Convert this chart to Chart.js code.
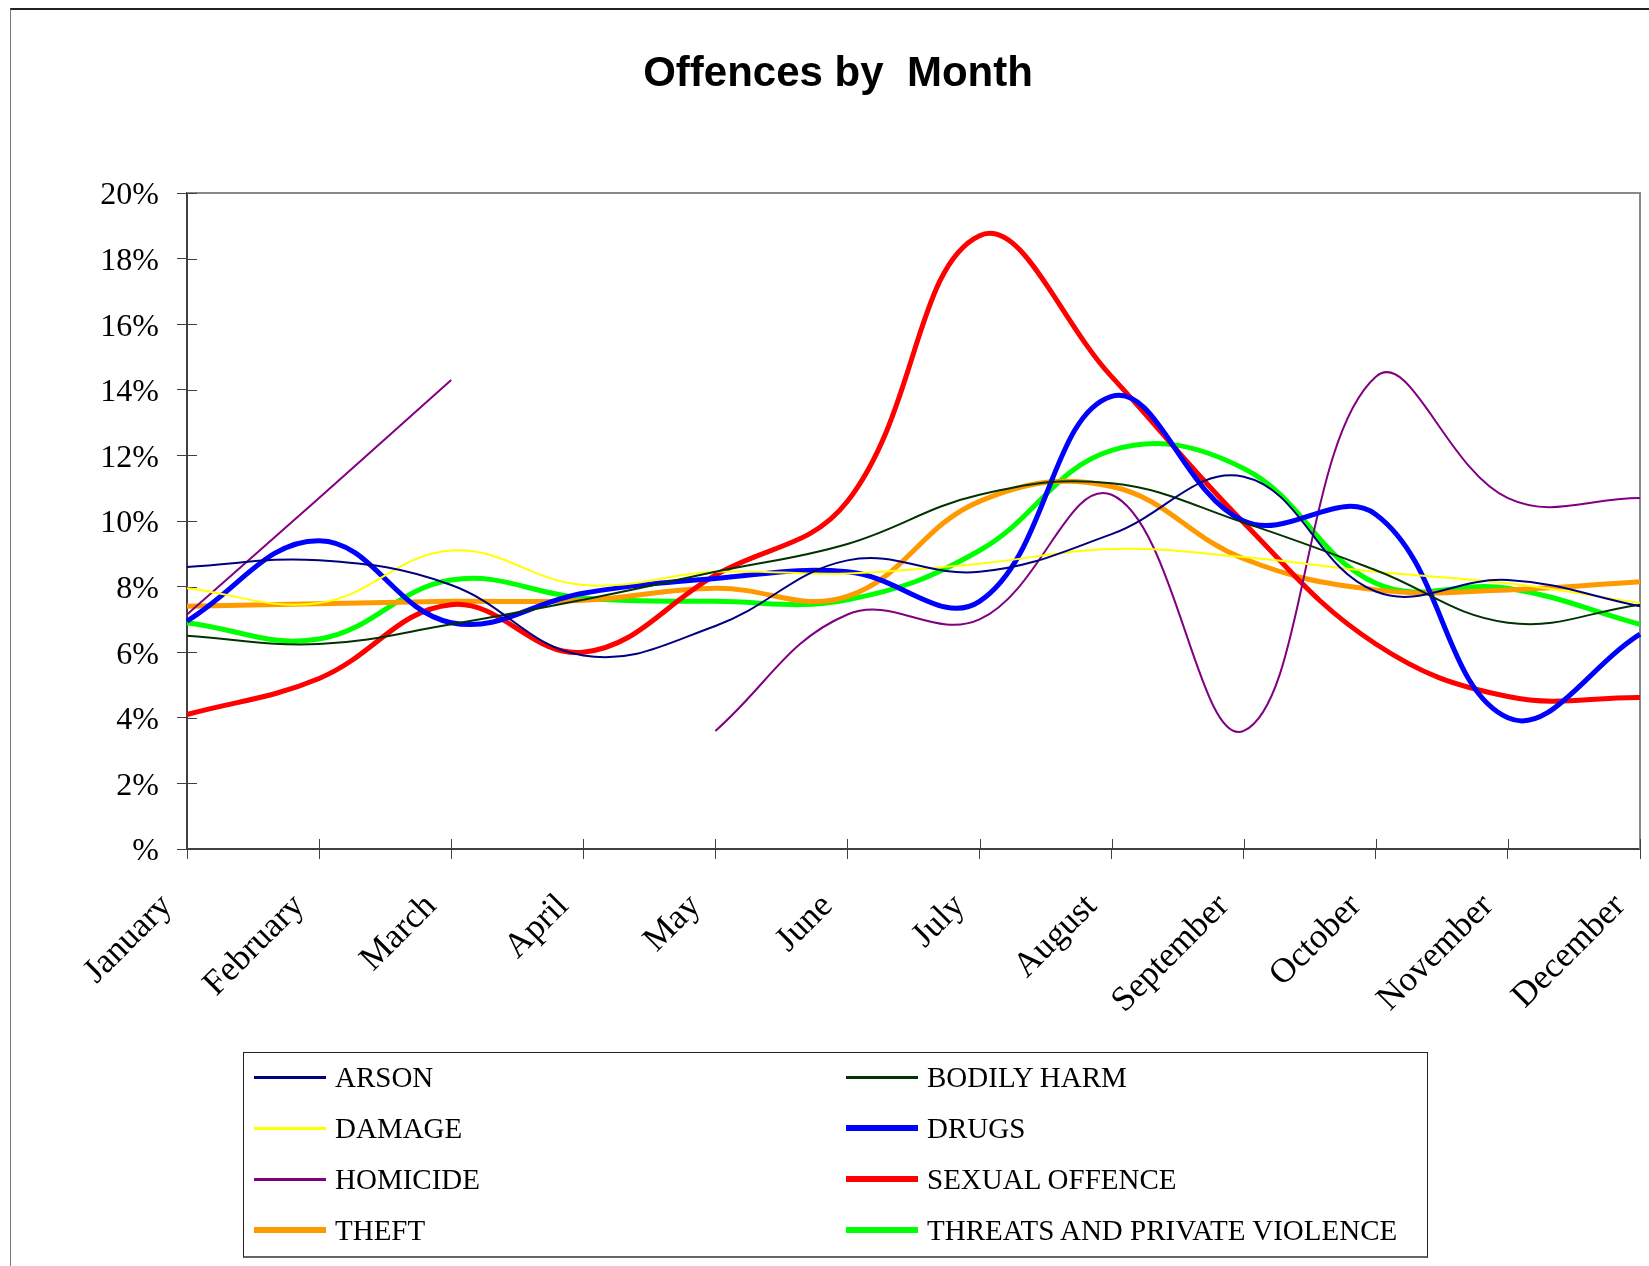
<!DOCTYPE html>
<html>
<head>
<meta charset="utf-8">
<script src="https://cdn.jsdelivr.net/npm/chart.js@4/dist/chart.umd.min.js"></script>
<style>
  html, body { margin: 0; padding: 0; background: #fff; }
  #wrap { position: relative; width: 1649px; height: 1266px; overflow: hidden; }
  #frame { position: absolute; left: 10px; top: 8px; right: -5px; bottom: -5px;
           border-top: 2px solid #222; border-left: 1px solid #777; }
  canvas { position: absolute; left: 0; top: 0; }
  #title { position: absolute; left: 0; top: 47px; width: 1676px; text-align: center;
           font-family: "Liberation Sans", Arial, sans-serif; font-weight: bold; font-size: 42px;
           line-height: 50px; color: #000; white-space: pre; }
  #legend { position: absolute; left: 243px; top: 1052px; width: 1185px; height: 206px;
            border: 1px solid #222; border-bottom: 2px solid #666; box-sizing: border-box;
            font-family: "Liberation Serif", "Times New Roman", serif; font-size: 29px; color: #000; }
  .item { position: absolute; height: 34px; line-height: 34px; white-space: nowrap; }
  .item span.swatch { position: absolute; left: 0; width: 72px; }
  .item span.label { position: absolute; left: 81px; }
</style>
</head>
<body>
<div id="wrap">
  <div id="frame"></div>
  <canvas id="chart" width="1649" height="1266"></canvas>
  <div id="title">Offences by  Month</div>
  <div id="legend"></div>
</div>
<script>
const months = ['January', 'February', 'March', 'April', 'May', 'June', 'July',
                'August', 'September', 'October', 'November', 'December'];
const yTicks = [0, 2, 4, 6, 8, 10, 12, 14, 16, 18, 20];

// percent of each offence's yearly total, per month
const arson = [8.6, 8.8, 8.05, 5.9, 6.8, 8.8, 8.45, 9.6, 11.35, 7.85, 8.2, 7.4];
const bodilyHarm = [6.5, 6.25, 6.85, 7.6, 8.45, 9.3, 10.8, 11.15, 9.95, 8.5, 6.9, 7.45];
const damage = [7.95, 7.5, 9.1, 8.05, 8.45, 8.4, 8.7, 9.15, 8.9, 8.45, 8.1, 7.5];
const drugs = [6.95, 9.4, 6.9, 7.8, 8.25, 8.45, 7.55, 13.8, 10.0, 10.2, 4.0, 6.55];
const homicide = [7.15, 10.7, 14.3, null, 3.6, 7.15, 7.0, 10.8, 3.6, 14.4, 10.7, 10.7];
const sexualOffence = [4.1, 5.2, 7.45, 6.0, 8.35, 10.6, 18.7, 14.4, 9.95, 6.25, 4.65, 4.62];
const theft = [7.4, 7.48, 7.55, 7.58, 7.95, 7.7, 10.6, 11.05, 8.85, 7.9, 7.9, 8.15];
const threats = [6.9, 6.4, 8.2, 7.65, 7.55, 7.6, 9.1, 12.15, 11.6, 8.1, 7.95, 6.85];

const series = [
  { label: 'ARSON', data: arson, color: '#000080', width: 2 },
  { label: 'BODILY HARM', data: bodilyHarm, color: '#003300', width: 2 },
  { label: 'DAMAGE', data: damage, color: '#FFFF00', width: 2 },
  { label: 'DRUGS', data: drugs, color: '#0000FF', width: 5 },
  { label: 'HOMICIDE', data: homicide, color: '#800080', width: 2 },
  { label: 'SEXUAL OFFENCE', data: sexualOffence, color: '#FF0000', width: 5 },
  { label: 'THEFT', data: theft, color: '#FF9900', width: 5 },
  { label: 'THREATS AND PRIVATE VIOLENCE', data: threats, color: '#00FF00', width: 5 },
];

// gray top/right edge of the plot area plus the inner half of the cross ticks
const plotFrame = {
  id: 'plotFrame',
  beforeDatasetsDraw(chart) {
    const { ctx, chartArea: a, scales } = chart;
    ctx.save();
    ctx.strokeStyle = '#888';
    ctx.lineWidth = 2;
    ctx.beginPath();
    ctx.moveTo(a.left, a.top);
    ctx.lineTo(a.right, a.top);
    ctx.lineTo(a.right, a.bottom);
    ctx.stroke();
    ctx.strokeStyle = '#404040';
    ctx.lineWidth = 1;
    ctx.beginPath();
    scales.y.ticks.forEach((t, i) => {
      const y = Math.round(scales.y.getPixelForTick(i)) + 0.5;
      ctx.moveTo(a.left, y);
      ctx.lineTo(a.left + 10, y);
    });
    scales.x.ticks.forEach((t, i) => {
      const x = Math.round(scales.x.getPixelForTick(i)) + 0.5;
      ctx.moveTo(x, a.bottom);
      ctx.lineTo(x, a.bottom - 10);
    });
    ctx.stroke();
    ctx.restore();
  }
};

const chart = new Chart(document.getElementById('chart').getContext('2d'), {
  type: 'line',
  data: {
    labels: months,
    datasets: series.map(s => ({
      label: s.label,
      data: s.data,
      borderColor: s.color,
      backgroundColor: s.color,
      borderWidth: s.width,
      pointRadius: 0,
      tension: 0.4,
      spanGaps: false,
      fill: false,
    }))
  },
  options: {
    responsive: false,
    animation: false,
    layout: { padding: { left: 0, right: 9, top: 193, bottom: 0 } },
    plugins: {
      legend: { display: false },
      tooltip: { enabled: false },
      title: { display: false }
    },
    scales: {
      x: {
        offset: false,
        grid: { display: true, drawOnChartArea: false, drawTicks: true, tickLength: 10, color: '#404040' },
        border: { display: true, color: '#404040', width: 2 },
        ticks: {
          autoSkip: false, minRotation: 45, maxRotation: 45, padding: 27, labelOffset: -20,
          color: '#000',
          font: { family: '"Liberation Serif", "Times New Roman", serif', size: 35 }
        },
        afterFit(scale) {
          scale.height = 417;
          scale.paddingLeft = 0;
          scale.paddingRight = 0;
        }
      },
      y: {
        min: 0, max: 20,
        afterBuildTicks(scale) { scale.ticks = yTicks.map(v => ({ value: v })); },
        grid: { display: true, drawOnChartArea: false, drawTicks: true, tickLength: 10, color: '#404040' },
        border: { display: true, color: '#404040', width: 2 },
        ticks: {
          padding: 18, labelOffset: 3,
          color: '#000',
          font: { family: '"Liberation Serif", "Times New Roman", serif', size: 32 },
          callback: v => (v === 0 ? '%' : v + '%')
        },
        afterFit(scale) { scale.width = 187; }
      }
    }
  },
  plugins: [plotFrame]
});

// two-column legend built from the chart's datasets
const legend = document.getElementById('legend');
chart.data.datasets.forEach((ds, i) => {
  const col = i % 2, row = Math.floor(i / 2);
  const item = document.createElement('div');
  item.className = 'item';
  item.style.left = (10 + col * 592) + 'px';
  item.style.top = (24 + row * 51 - 17) + 'px';
  const sw = document.createElement('span');
  sw.className = 'swatch';
  const h = ds.borderWidth > 3 ? 6 : 3;
  sw.style.height = h + 'px';
  sw.style.top = (17 - h / 2) + 'px';
  sw.style.background = ds.borderColor;
  const lab = document.createElement('span');
  lab.className = 'label';
  lab.textContent = ds.label;
  item.appendChild(sw);
  item.appendChild(lab);
  legend.appendChild(item);
});
</script>
</body>
</html>
